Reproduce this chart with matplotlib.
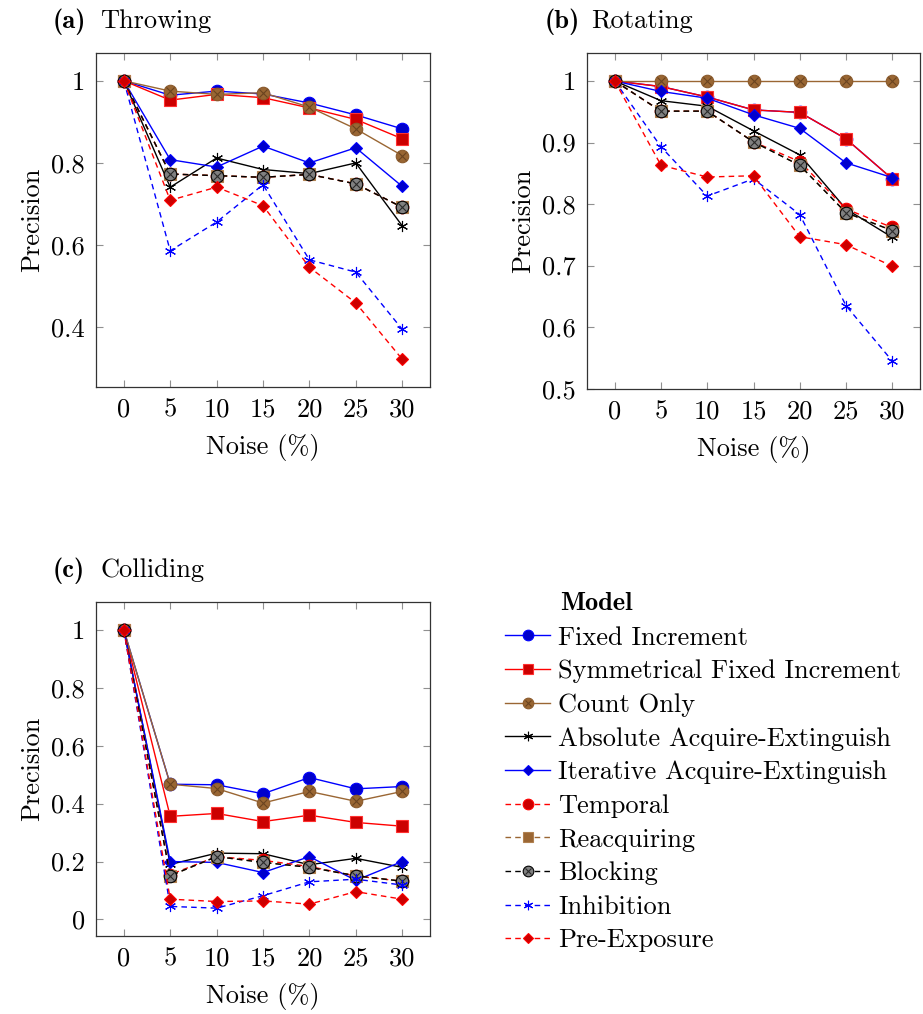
import matplotlib
matplotlib.use("Agg")
import matplotlib.pyplot as plt
from matplotlib.lines import Line2D

plt.rcParams['font.family'] = ['cmr10', 'DejaVu Serif']
plt.rcParams['mathtext.fontset'] = 'cm'
plt.rcParams['axes.formatter.use_mathtext'] = True

# Data
noise = [0, 5, 10, 15, 20, 25, 30]
models = ["Fixed Increment", "Symmetrical Fixed Increment", "Count Only",
          "Absolute Acquire-Extinguish", "Iterative Acquire-Extinguish",
          "Temporal", "Reacquiring", "Blocking", "Inhibition", "Pre-Exposure"]

throwing_fixed = [1, 0.965, 0.975, 0.968, 0.946, 0.917, 0.883]
throwing_sym = [1, 0.953, 0.967, 0.959, 0.934, 0.906, 0.859]
throwing_count = [1, 0.975, 0.967, 0.971, 0.936, 0.883, 0.818]
throwing_abs = [1, 0.741, 0.812, 0.784, 0.774, 0.800, 0.647]
throwing_iter = [1, 0.808, 0.790, 0.841, 0.800, 0.837, 0.743]
throwing_temporal = [1, 0.773, 0.769, 0.765, 0.772, 0.749, 0.692]
throwing_reacq = [1, 0.773, 0.769, 0.765, 0.772, 0.749, 0.692]
throwing_block = [1, 0.773, 0.769, 0.765, 0.772, 0.749, 0.692]
throwing_inhib = [1, 0.586, 0.656, 0.747, 0.564, 0.534, 0.395]
throwing_preexp = [1, 0.709, 0.741, 0.696, 0.546, 0.459, 0.322]

rotating_fixed = [1, 0.991, 0.974, 0.953, 0.949, 0.906, 0.841]
rotating_sym = [1, 0.991, 0.974, 0.953, 0.949, 0.906, 0.841]
rotating_count = [1, 1, 1, 1, 1, 1, 1]
rotating_abs = [1, 0.968, 0.959, 0.919, 0.880, 0.792, 0.746]
rotating_iter = [1, 0.983, 0.972, 0.945, 0.923, 0.867, 0.843]
rotating_temporal = [1, 0.951, 0.951, 0.901, 0.869, 0.792, 0.762]
rotating_reacq = [1, 0.951, 0.951, 0.901, 0.863, 0.786, 0.757]
rotating_block = [1, 0.951, 0.951, 0.901, 0.863, 0.786, 0.757]
rotating_inhib = [1, 0.893, 0.813, 0.841, 0.783, 0.635, 0.545]
rotating_preexp = [1, 0.863, 0.844, 0.846, 0.747, 0.734, 0.699]

colliding_fixed = [1, 0.467, 0.465, 0.434, 0.490, 0.451, 0.459]
colliding_sym = [1, 0.356, 0.366, 0.338, 0.360, 0.335, 0.322]
colliding_count = [1, 0.467, 0.452, 0.402, 0.442, 0.408, 0.442]
colliding_abs = [1, 0.190, 0.229, 0.227, 0.189, 0.211, 0.180]
colliding_iter = [1, 0.200, 0.197, 0.162, 0.217, 0.135, 0.200]
colliding_temporal = [1, 0.155, 0.217, 0.204, 0.183, 0.150, 0.132]
colliding_reacq = [1, 0.151, 0.217, 0.197, 0.180, 0.151, 0.132]
colliding_block = [1, 0.151, 0.217, 0.197, 0.180, 0.151, 0.132]
colliding_inhib = [1, 0.045, 0.039, 0.082, 0.130, 0.139, 0.119]
colliding_preexp = [1, 0.070, 0.062, 0.064, 0.053, 0.096, 0.070]

throwing = [throwing_fixed, throwing_sym, throwing_count, throwing_abs, throwing_iter,
            throwing_temporal, throwing_reacq, throwing_block, throwing_inhib, throwing_preexp]
rotating = [rotating_fixed, rotating_sym, rotating_count, rotating_abs, rotating_iter,
            rotating_temporal, rotating_reacq, rotating_block, rotating_inhib, rotating_preexp]
colliding = [colliding_fixed, colliding_sym, colliding_count, colliding_abs, colliding_iter,
             colliding_temporal, colliding_reacq, colliding_block, colliding_inhib, colliding_preexp]

# styles: (line color, linestyle, marker, marker fill, marker edge, size, overlay x)
BROWN = '#9a6633'
DASH = (0, (4, 3))
styles = [
    ('#0000ff', '-', 'o', '#0000cc', '#0000ff', 9, False),
    ('#ff0000', '-', 's', '#cc0000', '#ff3030', 9, False),
    (BROWN, '-', 'o', '#996633', '#8a5a2c', 9, True),
    ('#000000', '-', (6, 2, 0), '#000000', '#000000', 8, False),
    ('#0000ff', '-', 'D', '#0000cc', '#0000ff', 6.5, False),
    ('#ff0000', DASH, 'o', '#cc0000', '#ff0000', 9, False),
    (BROWN, DASH, 's', BROWN, '#b08050', 9, False),
    ('#000000', DASH, 'o', '#808080', '#000000', 9, True),
    ('#0000ff', DASH, (6, 2, 0), '#0000ff', '#0000ff', 8, False),
    ('#ff0000', DASH, 'D', '#cc0000', '#ff0000', 6.5, False),
]

FS = 19


def x_color(fc):
    return '#2a2a2a' if fc == '#808080' else '#6b4420'


def draw_series(ax, x, y, st):
    color, ls, mk, fc, ec, ms, xo = st
    ax.plot(x, y, color=color, linestyle=ls, lw=1.0, marker=mk, markersize=ms,
            markerfacecolor=fc, markeredgecolor=ec, markeredgewidth=0.8)
    if xo:
        ax.plot(x, y, linestyle='none', marker='x', markersize=ms * 0.6,
                markeredgecolor=x_color(fc), markeredgewidth=0.8)


fig = plt.figure(figsize=(9.23, 10.14), dpi=100)
W, H = 923.0, 1014.0


def make_ax(l, t, r, b):
    return fig.add_axes([l / W, 1 - b / H, (r - l) / W, (b - t) / H])


panels = [
    (make_ax(96, 53, 430, 387), throwing, "(a)", "Throwing", [0.4, 0.6, 0.8, 1.0], ["0.4", "0.6", "0.8", "1"]),
    (make_ax(587, 53, 920, 389), rotating, "(b)", "Rotating", [0.5, 0.6, 0.7, 0.8, 0.9, 1.0],
     ["0.5", "0.6", "0.7", "0.8", "0.9", "1"]),
    (make_ax(96, 602, 430, 936), colliding, "(c)", "Colliding", [0, 0.2, 0.4, 0.6, 0.8, 1.0],
     ["0", "0.2", "0.4", "0.6", "0.8", "1"]),
]

for ax, data, tag, name, yt, ytl in panels:
    for vals, st in zip(data, styles):
        draw_series(ax, noise, vals, st)
    lo = min(min(v) for v in data)
    hi = max(max(v) for v in data)
    pad = (hi - lo) * 0.1
    ax.set_ylim(lo - pad, hi + pad)
    ax.set_xlim(-3, 33)
    ax.set_xticks(noise)
    ax.set_xticklabels([str(n) for n in noise])
    ax.set_yticks(yt)
    ax.set_yticklabels(ytl)
    ax.tick_params(direction='in', length=5, width=0.8, color='#909090', labelsize=FS,
                   top=True, right=True, pad=8)
    for sp in ax.spines.values():
        sp.set_color('#333333')
        sp.set_linewidth(0.9)
    ax.set_xlabel("Noise (%)", fontsize=FS, labelpad=9)
    ax.set_ylabel("Precision", fontsize=FS, labelpad=5)
    ax.text(-43 / 334, 1 + 25 / 334, tag, transform=ax.transAxes,
            fontsize=FS, family='cmb10', ha='left', va='baseline')
    ax.text(4 / 334, 1 + 25 / 334, name, transform=ax.transAxes,
            fontsize=FS, ha='left', va='baseline')

# Legend
handles = []
for st in styles:
    color, ls, mk, fc, ec, ms, xo = st
    h = Line2D([], [], color=color, linestyle=ls, lw=1.0, marker=mk, markersize=ms * 0.85,
               markerfacecolor=fc, markeredgecolor=ec, markeredgewidth=0.8)
    if xo:
        hx = Line2D([], [], linestyle='none', marker='x', markersize=ms * 0.5,
                    markeredgecolor=x_color(fc), markeredgewidth=0.8)
        handles.append((h, hx))
    else:
        handles.append(h)

fig.text(560 / W, 1 - 603 / H, "Model", fontsize=FS, family='cmb10', va='center', ha='left')
fig.legend(handles, models, loc='upper left', bbox_to_anchor=(505 / W, 1 - 626 / H),
           frameon=False, fontsize=FS, handlelength=1.72, handletextpad=0.3,
           labelspacing=0.375, borderpad=0, borderaxespad=0)

fig.savefig("out.png", dpi=100)
